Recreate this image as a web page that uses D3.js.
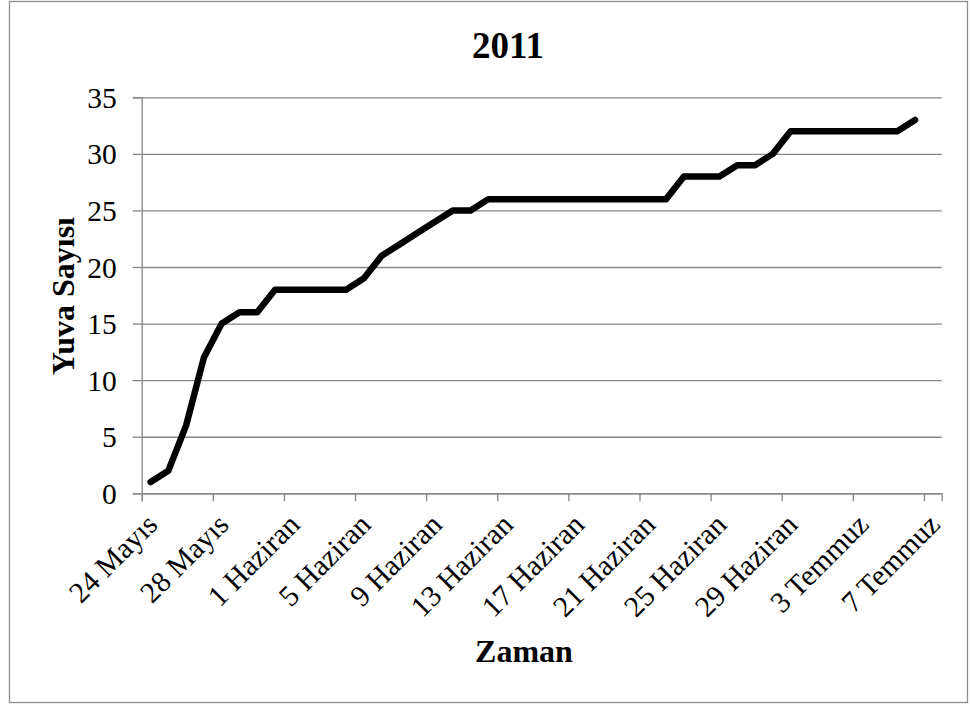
<!DOCTYPE html>
<html>
<head>
<meta charset="utf-8">
<script src="https://cdn.jsdelivr.net/npm/d3@7"></script>
<style>
  body { margin: 0; background: #fff; }
  text { font-family: "Times New Roman", "Liberation Serif", serif; fill: #000; }
</style>
</head>
<body>
<div id="chart"></div>
<script>
// nest counts per day (2011)
var dates = [
  "2011-05-24", "2011-05-25", "2011-05-26", "2011-05-27", "2011-05-28", "2011-05-29",
  "2011-05-30", "2011-05-31", "2011-06-01", "2011-06-02", "2011-06-03", "2011-06-04",
  "2011-06-05", "2011-06-06", "2011-06-07", "2011-06-08", "2011-06-09", "2011-06-10",
  "2011-06-11", "2011-06-12", "2011-06-13", "2011-06-14", "2011-06-15", "2011-06-16",
  "2011-06-17", "2011-06-18", "2011-06-19", "2011-06-20", "2011-06-21", "2011-06-22",
  "2011-06-23", "2011-06-24", "2011-06-25", "2011-06-26", "2011-06-27", "2011-06-28",
  "2011-06-29", "2011-06-30", "2011-07-01", "2011-07-02", "2011-07-03", "2011-07-04",
  "2011-07-05", "2011-07-06"
];
var nests = [
  1, 2, 6, 12, 15, 16,
  16, 18, 18, 18, 18, 18,
  19, 21, 22, 23, 24, 25,
  25, 26, 26, 26, 26, 26,
  26, 26, 26, 26, 26, 26,
  28, 28, 28, 29, 29, 30,
  32, 32, 32, 32, 32, 32,
  32, 33
];
var tickDates = ["2011-05-24", "2011-05-28", "2011-06-01", "2011-06-05", "2011-06-09", "2011-06-13",
                 "2011-06-17", "2011-06-21", "2011-06-25", "2011-06-29", "2011-07-03", "2011-07-07"];
var tickLabels = ["24 Mayıs", "28 Mayıs", "1 Haziran", "5 Haziran", "9 Haziran", "13 Haziran",
                  "17 Haziran", "21 Haziran", "25 Haziran", "29 Haziran", "3 Temmuz", "7 Temmuz"];
var yTicks = [0, 5, 10, 15, 20, 25, 30, 35];

var W = 971, H = 706;
var margin = { top: 97.3, right: 29.3, bottom: 212.7, left: 141.7 };
var width = W - margin.left - margin.right;
var height = H - margin.top - margin.bottom;

var parse = d3.utcParse("%Y-%m-%d");
var data = dates.map(function (d, i) { return { date: parse(d), value: nests[i] }; });
var ticks = tickDates.map(parse);

var svg = d3.select("#chart")
  .append("svg")
  .attr("width", W)
  .attr("height", H);

// outer chart frame
svg.append("rect")
  .attr("x", 9.5).attr("y", 1.5)
  .attr("width", 958).attr("height", 701)
  .attr("fill", "none")
  .attr("stroke", "#8c8c8c")
  .attr("stroke-width", 1.3);

var g = svg.append("g")
  .attr("transform", "translate(" + margin.left + "," + margin.top + ")");

var x = d3.scaleUtc()
  .domain([parse("2011-05-24"), parse("2011-07-08")])
  .range([0, width]);

var y = d3.scaleLinear()
  .domain([0, 35])
  .range([height, 0]);

// y axis with gridlines
g.append("g")
  .call(d3.axisLeft(y).tickValues(yTicks).tickSize(9).tickPadding(16))
  .call(function (a) { a.select(".domain").attr("stroke", "#868686").attr("stroke-width", 1.3); })
  .call(function (a) { a.selectAll(".tick line").attr("stroke", "#868686").attr("stroke-width", 1.3).attr("x2", width); })
  .call(function (a) { a.selectAll(".tick line").clone().attr("x1", -9).attr("x2", 0); })
  .call(function (a) {
    a.selectAll(".tick text")
      .attr("font-size", 29.5)
      .attr("font-family", "'Times New Roman', 'Liberation Serif', serif")
      .attr("fill", "#000")
      .attr("dy", "0.34em");
  });

// x axis
var xAxis = g.append("g")
  .attr("transform", "translate(0," + height + ")")
  .call(d3.axisBottom(x).tickValues(ticks).tickSize(8).tickFormat(function (d, i) { return tickLabels[i]; }))
  .call(function (a) { a.select(".domain").attr("stroke", "#868686").attr("stroke-width", 1.3); })
  .call(function (a) { a.selectAll(".tick line").attr("stroke", "#868686").attr("stroke-width", 1.3); });

xAxis.selectAll(".tick text")
  .attr("font-size", 29.5)
  .attr("font-family", "'Times New Roman', 'Liberation Serif', serif")
  .attr("fill", "#000")
  .attr("text-anchor", "end")
  .attr("dy", 0)
  .attr("y", 0)
  .attr("transform", "translate(17,33) rotate(-45)");

// line
var line = d3.line()
  .x(function (d) { return x(d3.utcHour.offset(d.date, 12)); })
  .y(function (d) { return y(d.value); });

g.append("path")
  .datum(data)
  .attr("fill", "none")
  .attr("stroke", "#000")
  .attr("stroke-width", 6.5)
  .attr("stroke-linejoin", "round")
  .attr("stroke-linecap", "round")
  .attr("d", line);

// titles
svg.append("text")
  .attr("x", 508).attr("y", 58)
  .attr("text-anchor", "middle")
  .attr("font-size", 37)
  .attr("font-weight", "bold")
  .text("2011");

svg.append("text")
  .attr("x", 524).attr("y", 662)
  .attr("text-anchor", "middle")
  .attr("font-size", 32)
  .attr("font-weight", "bold")
  .text("Zaman");

svg.append("text")
  .attr("transform", "translate(74,296) rotate(-90)")
  .attr("text-anchor", "middle")
  .attr("font-size", 32)
  .attr("font-weight", "bold")
  .text("Yuva Sayısı");
</script>
</body>
</html>
